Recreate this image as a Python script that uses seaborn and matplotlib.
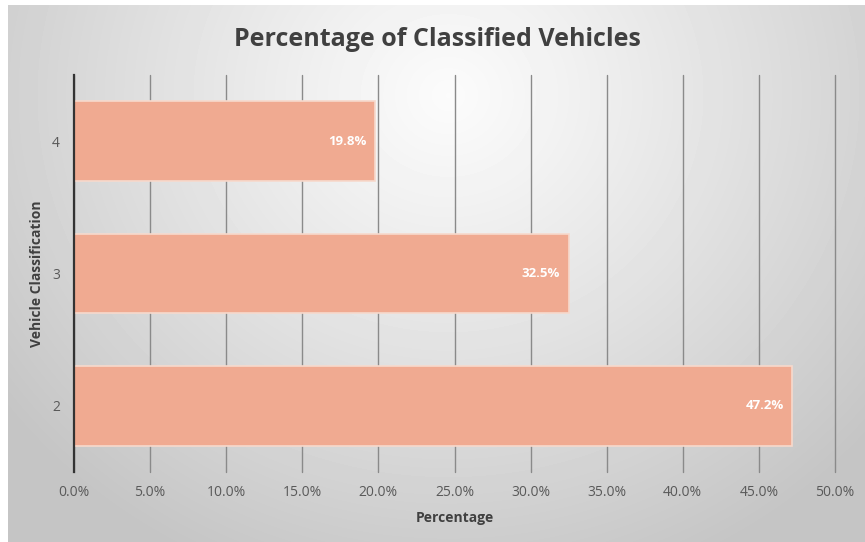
import numpy as np
import pandas as pd
import matplotlib
matplotlib.use("Agg")
import matplotlib.pyplot as plt
import seaborn as sns

categories = ["4", "3", "2"]
percentages = [19.8, 32.5, 47.2]
xtick_values = [0, 5, 10, 15, 20, 25, 30, 35, 40, 45, 50]
xtick_labels = ["0.0%", "5.0%", "10.0%", "15.0%", "20.0%", "25.0%",
                "30.0%", "35.0%", "40.0%", "45.0%", "50.0%"]

df = pd.DataFrame({"Vehicle Classification": categories, "Percentage": percentages})

sns.set_theme(style="white")
plt.rcParams['font.family'] = ['Open Sans', 'DejaVu Sans']

W, H = 865, 542
fig = plt.figure(figsize=(W / 100, H / 100), dpi=100)
fig.patch.set_facecolor("white")

# background radial gradient (chart area from x=8, y=5)
bg = fig.add_axes([8 / W, 0, 1 - 8 / W, 1 - 5 / H])
yy, xx = np.mgrid[0:537, 0:857]
cx, cy = 440, 90
d = np.sqrt(((xx - cx) / 560.0) ** 2 + ((yy - cy) / 520.0) ** 2)
d = np.clip(d, 0, 1)
val = 0.985 - 0.215 * d ** 1.1
bg.imshow(val, cmap="gray", vmin=0, vmax=1, aspect="auto", interpolation="bilinear")
bg.set_axis_off()

ax = fig.add_axes([74 / W, 1 - 472 / H, (835 - 74) / W, (472 - 75) / H])
ax.patch.set_alpha(0)

sns.barplot(data=df, x="Percentage", y="Vehicle Classification", ax=ax,
            color="#F0AA91", saturation=1, width=0.6,
            edgecolor="#F7D9CC", linewidth=1.2, orient="h")

ax.set_xlim(0, 50)
ax.set_ylim(2.5, -0.5)
ax.set_xticks(xtick_values)
ax.set_xticklabels(xtick_labels)
ax.grid(axis="x", color="#8a8a8a", linewidth=1.0)
for gl in ax.get_xgridlines():
    gl.set_clip_on(False)
ax.set_axisbelow(True)
for s in ["top", "right", "bottom"]:
    ax.spines[s].set_visible(False)
ax.spines["left"].set_color("#333333")
ax.spines["left"].set_linewidth(1.6)
ax.tick_params(axis="both", length=0, labelsize=10, colors="#595959", pad=9)
ax.tick_params(axis="y", pad=10)

ax.set_xlabel("Percentage", fontsize=10, fontweight="bold", color="#404040", labelpad=8)
ax.set_ylabel("Vehicle Classification", fontsize=10, fontweight="bold", color="#404040", labelpad=6)

for i, v in enumerate(percentages):
    ax.text(v - 0.55, i, f"{v}%", ha="right", va="center", color="white",
            fontsize=9.5, fontweight="bold")

fig.text(437 / W, 1 - 40 / H, "Percentage of Classified Vehicles", ha="center", va="center",
         fontsize=18, fontweight="bold", color="#404040")

fig.savefig("out.png", dpi=100)
